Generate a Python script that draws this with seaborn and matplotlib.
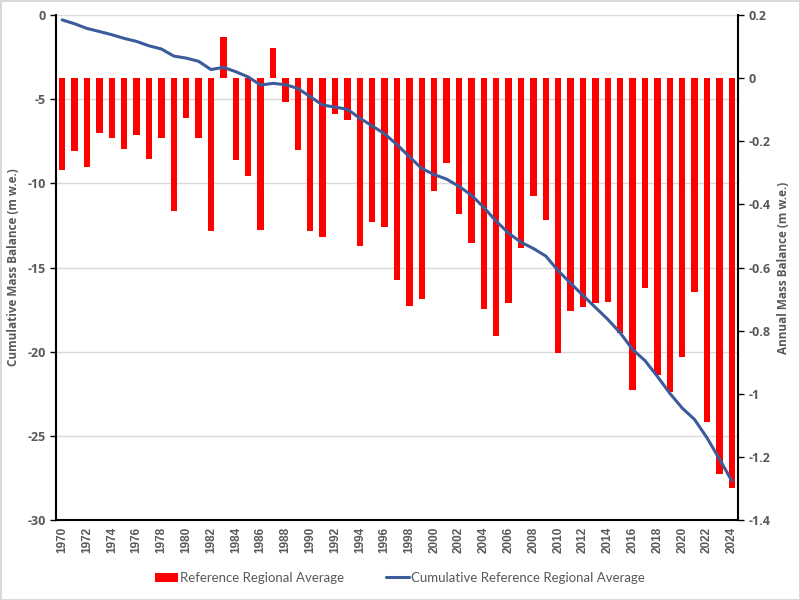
import numpy as np
import pandas as pd
import matplotlib.pyplot as plt
import seaborn as sns
from matplotlib.patches import Patch
from matplotlib.lines import Line2D

## data
years = list(range(1970, 2025))
annual = [-0.29, -0.23, -0.28, -0.175, -0.19, -0.225, -0.18, -0.255, -0.19, -0.42,
          -0.125, -0.19, -0.485, 0.13, -0.26, -0.31, -0.48, 0.095, -0.075, -0.227,
          -0.484, -0.504, -0.115, -0.132, -0.532, -0.457, -0.472, -0.639, -0.722, -0.699,
          -0.359, -0.27, -0.429, -0.523, -0.731, -0.817, -0.713, -0.538, -0.372, -0.451,
          -0.872, -0.737, -0.725, -0.711, -0.709, -0.806, -0.988, -0.664, -0.939, -0.994,
          -0.884, -0.677, -1.089, -1.253, -1.298]
cumulative = [-0.29, -0.52, -0.80, -0.98, -1.17, -1.39, -1.57, -1.83, -2.02, -2.44,
              -2.56, -2.75, -3.24, -3.11, -3.37, -3.68, -4.16, -4.06, -4.14, -4.36,
              -4.85, -5.35, -5.47, -5.60, -6.13, -6.59, -7.06, -7.70, -8.42, -9.12,
              -9.48, -9.75, -10.18, -10.70, -11.43, -12.25, -12.96, -13.50, -13.87, -14.32,
              -15.19, -15.93, -16.66, -17.37, -18.08, -18.88, -19.87, -20.53, -21.47, -22.47,
              -23.35, -24.03, -25.12, -26.37, -27.67]
left_ticks = [0, -5, -10, -15, -20, -25, -30]
right_ticks = [0.2, 0, -0.2, -0.4, -0.6, -0.8, -1, -1.2, -1.4]
right_labels = ['0.2', '0', '-0.2', '-0.4', '-0.6', '-0.8', '-1', '-1.2', '-1.4']

bar_color = '#FF0000'
line_color = '#3B5B9B'
txt_color = '#595959'

df = pd.DataFrame({'year': years, 'pos': np.arange(len(years)),
                   'annual': annual, 'cumulative': cumulative})

sns.set_style("white")
plt.rcParams['font.family'] = ['Lato', 'DejaVu Sans']
bold_font = dict(family=['Open Sans', 'DejaVu Sans'], fontweight='bold', color=txt_color)

fig, ax = plt.subplots(figsize=(8, 6), dpi=100)
fig.subplots_adjust(left=0.07, right=0.9225, bottom=0.1333, top=0.975)
ax_bar = ax.twinx()
ax_line = ax.twinx()

## bars (right axis)
sns.barplot(data=df, x='year', y='annual', ax=ax_bar, color=bar_color,
            saturation=1, width=0.52, linewidth=0)
## cumulative line (left axis scale)
sns.lineplot(data=df, x='pos', y='cumulative', ax=ax_line, color=line_color,
             linewidth=2.2)

# left axis
ax.set_ylim(-30, 0)
ax.set_yticks(left_ticks)
ax.set_yticklabels([str(t) for t in left_ticks], fontsize=9, **bold_font)
ax.yaxis.grid(True, color='#d9d9d9', linewidth=1)
ax.set_axisbelow(True)
ax.set_ylabel('Cumulative Mass Balance (m w.e.)', fontsize=8.5, labelpad=5, **bold_font)
ax_line.set_ylim(-30, 0)

# right axis
ax_bar.set_ylim(-1.4, 0.2)
ax_bar.set_yticks(right_ticks)
ax_bar.set_yticklabels(right_labels, fontsize=9, **bold_font)
ax_bar.set_ylabel('Annual Mass Balance (m w.e.)', fontsize=8.5, labelpad=5, **bold_font)
ax_bar.set_xlabel('')

# x axis
ax.set_xlim(-0.5, len(years) - 0.5)
ax.set_xticks(np.arange(0, len(years), 2))
ax.set_xticklabels([str(y) for y in years[::2]], rotation=90, fontsize=8.5,
                   fontweight='bold', color=txt_color, family=['Liberation Sans'])
ax.tick_params(axis='x', length=0, pad=5)
ax.set_xlabel('')

for a in (ax, ax_bar):
    a.tick_params(axis='y', length=4, width=1, color='black', direction='out')

for s in ['top', 'right']:
    ax.spines[s].set_visible(False)
for s in ['left', 'bottom']:
    ax.spines[s].set_color('black')
    ax.spines[s].set_linewidth(1.5)
for s in ['top', 'left', 'bottom']:
    ax_bar.spines[s].set_visible(False)
ax_bar.spines['right'].set_color('black')
ax_bar.spines['right'].set_linewidth(1.5)

for s in ax_line.spines.values():
    s.set_visible(False)
ax_line.set_yticks([])
ax_line.set_ylabel('')
ax_line.set_xlabel('')

## legend
handles = [Patch(facecolor=bar_color, edgecolor='none'),
           Line2D([0], [0], color=line_color, linewidth=2.2)]
leg = fig.legend(handles, ['Reference Regional Average', 'Cumulative Reference Regional Average'],
                 loc='center', bbox_to_anchor=(0.5, 0.037), ncol=2, frameon=False,
                 fontsize=9.5, handlelength=1.7, handletextpad=0.15, columnspacing=3.2)
for t in leg.get_texts():
    t.set_color(txt_color)

fig.patch.set_edgecolor('#d9d9d9')
fig.patch.set_linewidth(2)
plt.savefig('out.png', dpi=100, edgecolor=fig.get_edgecolor())
